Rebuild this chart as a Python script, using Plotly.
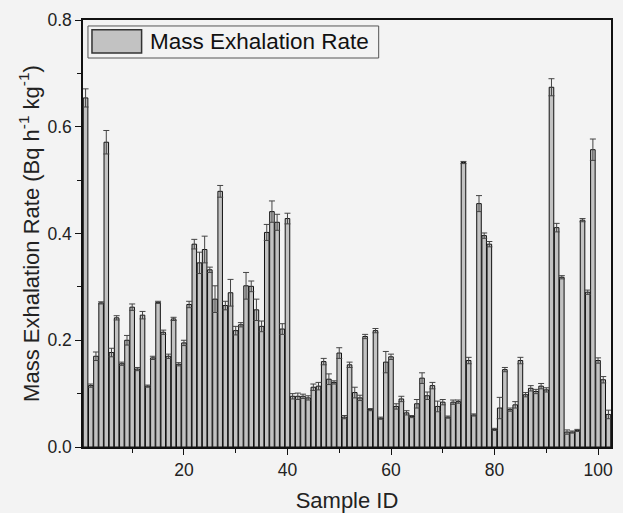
import plotly.graph_objects as go

sample_id = list(range(1, 103))
rate = [
    0.654, 0.115, 0.170, 0.270, 0.571, 0.177, 0.242, 0.156, 0.200, 0.262,
    0.146, 0.247, 0.114, 0.167, 0.271, 0.215, 0.170, 0.240, 0.155, 0.195,
    0.267, 0.380, 0.345, 0.370, 0.332, 0.277, 0.479, 0.265, 0.289, 0.218,
    0.229, 0.302, 0.301, 0.257, 0.226, 0.402, 0.441, 0.421, 0.221, 0.428,
    0.095, 0.095, 0.095, 0.092, 0.112, 0.114, 0.160, 0.127, 0.121, 0.176,
    0.056, 0.154, 0.102, 0.092, 0.207, 0.070, 0.218, 0.054, 0.159, 0.169,
    0.076, 0.090, 0.064, 0.057, 0.081, 0.129, 0.096, 0.115, 0.076, 0.084,
    0.056, 0.084, 0.085, 0.533, 0.162, 0.060, 0.456, 0.396, 0.380, 0.033,
    0.073, 0.145, 0.070, 0.079, 0.162, 0.098, 0.110, 0.104, 0.114, 0.107,
    0.674, 0.411, 0.318, 0.028, 0.028, 0.031, 0.425, 0.290, 0.557, 0.162,
    0.126, 0.061,
]
rate_err = [
    0.017, 0.003, 0.008, 0.002, 0.022, 0.008, 0.004, 0.003, 0.009, 0.006,
    0.003, 0.007, 0.002, 0.003, 0.002, 0.004, 0.004, 0.003, 0.003, 0.005,
    0.006, 0.009, 0.020, 0.025, 0.005, 0.025, 0.011, 0.008, 0.025, 0.008,
    0.004, 0.025, 0.010, 0.020, 0.010, 0.015, 0.020, 0.015, 0.010, 0.010,
    0.005, 0.006, 0.004, 0.004, 0.006, 0.007, 0.006, 0.010, 0.003, 0.010,
    0.003, 0.005, 0.010, 0.005, 0.004, 0.002, 0.004, 0.002, 0.020, 0.005,
    0.005, 0.005, 0.004, 0.002, 0.008, 0.010, 0.007, 0.006, 0.010, 0.005,
    0.002, 0.004, 0.003, 0.002, 0.006, 0.002, 0.015, 0.005, 0.005, 0.002,
    0.020, 0.004, 0.003, 0.006, 0.006, 0.004, 0.005, 0.004, 0.005, 0.004,
    0.016, 0.008, 0.003, 0.004, 0.002, 0.002, 0.003, 0.004, 0.020, 0.005,
    0.006, 0.008,
]
series_name = "Mass Exhalation Rate"
x_tickvals = [20, 40, 60, 80, 100]
y_tickvals = [0.0, 0.2, 0.4, 0.6, 0.8]

FONT = "Arial, Liberation Sans, sans-serif"
BG = "#f3f3f3"

fig = go.Figure()
fig.add_trace(go.Bar(
    x=sample_id, y=rate, name=series_name,
    marker=dict(color="#c2c2c2", line=dict(color="#111111", width=1)),
    error_y=dict(type="data", array=rate_err, visible=True,
                 color="#444444", thickness=1, width=3),
    showlegend=False,
))

# custom legend box (large swatch as in the reference)
fig.add_shape(type="rect", xref="paper", yref="paper",
              x0=0.0094, x1=0.560, y0=0.911, y1=0.986,
              line=dict(color="#555555", width=1), fillcolor="rgba(0,0,0,0)")
fig.add_shape(type="rect", xref="paper", yref="paper",
              x0=0.017, x1=0.111, y0=0.923, y1=0.977,
              line=dict(color="#333333", width=1.5), fillcolor="#c2c2c2")
fig.add_annotation(xref="paper", yref="paper", x=0.1226, y=0.949,
                   text=series_name, showarrow=False, xanchor="left",
                   yanchor="middle", font=dict(family=FONT, size=22.5, color="#111111"))

axis_common = dict(showline=True, linecolor="#111111", linewidth=1.5, mirror=True,
                   ticks="outside", ticklen=6, tickwidth=1.2, tickcolor="#111111",
                   showgrid=False, zeroline=False,
                   tickfont=dict(family=FONT, size=17.5, color="#222222"))

fig.update_xaxes(range=[0.5, 102.5], tickvals=x_tickvals, automargin=False,
                 minor=dict(tickvals=[10, 30, 50, 70, 90], ticklen=4, ticks="outside",
                            tickcolor="#111111"),
                 title=dict(text="Sample ID", font=dict(family=FONT, size=22, color="#222222")),
                 **axis_common)
fig.update_yaxes(range=[0, 0.8], tickvals=y_tickvals, tickformat=".1f", automargin=True,
                 minor=dict(tickvals=[0.1, 0.3, 0.5, 0.7], ticklen=4, ticks="outside",
                            tickcolor="#111111"),
                 title=dict(text="Mass Exhalation Rate (Bq h<sup>-1</sup> kg<sup>-1</sup>)",
                            font=dict(family=FONT, size=22, color="#222222"), standoff=2),
                 **axis_common)

fig.update_layout(
    width=623, height=513,
    margin=dict(l=83, r=10, t=20, b=66),
    paper_bgcolor=BG, plot_bgcolor=BG,
    bargap=0.12,
    font=dict(family=FONT),
)

fig.write_html("out.html")
